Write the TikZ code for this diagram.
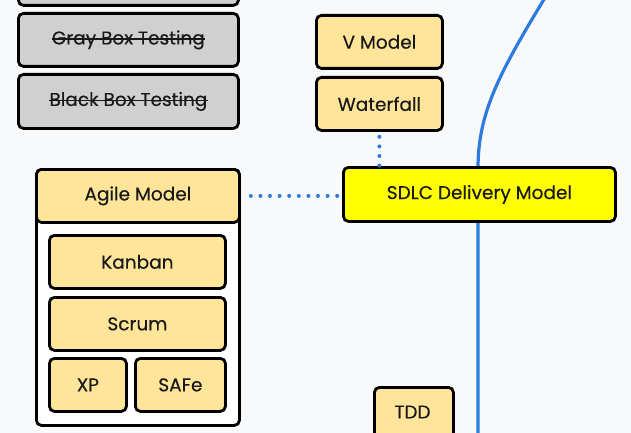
\documentclass[tikz,border=0pt]{standalone}
\usepackage{fontspec}
\setmainfont{Poppins}[FakeBold=0.35]
\definecolor{bgc}{HTML}{F8F9FB}
\definecolor{boxc}{HTML}{FFE59A}
\definecolor{grayc}{HTML}{D0D0D0}
\definecolor{yelc}{HTML}{FFFF00}
\definecolor{bluec}{HTML}{2E7BE0}
\tikzset{
  box/.style={draw=black, line width=2.8pt, rounded corners=5pt, anchor=north west,
    inner sep=0pt, font=\fontsize{18.5}{22}\selectfont, text=black!90},
  stepbox/.style={box, fill=boxc},
  graybox/.style={box, fill=grayc},
  txt/.style={inner sep=0pt, font=\fontsize{18.5}{22}\selectfont, text=black!90},
  strike/.style={black!90, line width=1.6pt},
  dotline/.style={bluec, line width=4pt, line cap=round, dash pattern=on 0pt off 9.6pt},
  flow/.style={bluec, line width=3.2pt}
}
\begin{document}
\begin{tikzpicture}[x=1pt, y=-1pt]
\fill[bgc] (0,0) rectangle (631,433);
\useasboundingbox (0,0) rectangle (631,433);
% blue curve
\coordinate (ctop) at (546,-4);
\coordinate (cbot) at (478,445);
\draw[flow] (ctop) .. controls (500,72) and (478,112) .. (478,168) -- (cbot);
% left gray boxes
\node[graybox, minimum width=220pt, minimum height=50pt] (top) at (17,-46) {};
\node[graybox, minimum width=220pt, minimum height=53pt] (gray) at (17,12) {};
\node[txt] (graytxt) at (gray.center) {Gray Box Testing};
\draw[strike] ([yshift=5.5pt]graytxt.base west) -- ([yshift=5.5pt]graytxt.base east);
\node[graybox, minimum width=220pt, minimum height=54pt] (black) at (17,73) {};
\node[txt] (blacktxt) at (black.center) {Black Box Testing};
\draw[strike] ([yshift=5.5pt]blacktxt.base west) -- ([yshift=5.5pt]blacktxt.base east);
% top middle
\node[stepbox, minimum width=126pt, minimum height=53pt] (vmodel) at (315,14) {V Model};
\node[stepbox, minimum width=126pt, minimum height=53pt] (wf) at (315,76) {Waterfall};
% SDLC
\node[box, fill=yelc, minimum width=272pt, minimum height=54pt] (sdlc) at (342,166) {SDLC Delivery Model};
% Agile container
\node[box, fill=white, minimum width=203pt, minimum height=256pt] (agile) at (35,168) {};
\node[stepbox, minimum width=203pt, minimum height=53pt] (agilehdr) at (35,168) {Agile Model};
\node[stepbox, minimum width=176pt, minimum height=53pt] (kanban) at (48,234) {Kanban};
\node[stepbox, minimum width=176pt, minimum height=53pt] (scrum) at (48,296) {Scrum};
\node[stepbox, minimum width=77pt, minimum height=53pt] (xp) at (48,357) {XP};
\node[stepbox, minimum width=90pt, minimum height=53pt] (safe) at (134,357) {SAFe};
% TDD
\node[stepbox, minimum width=79pt, minimum height=60pt] (tdd) at (373,386) {};
\node[txt] (tddt) at (412.5,412) {TDD};
% dotted connectors
\draw[dotline] ([yshift=-5pt]wf.south) -- (wf.south |- sdlc.north);
\draw[dotline] ([xshift=10pt]agilehdr.east) -- (agilehdr.east -| sdlc.west);
\end{tikzpicture}
\end{document}
